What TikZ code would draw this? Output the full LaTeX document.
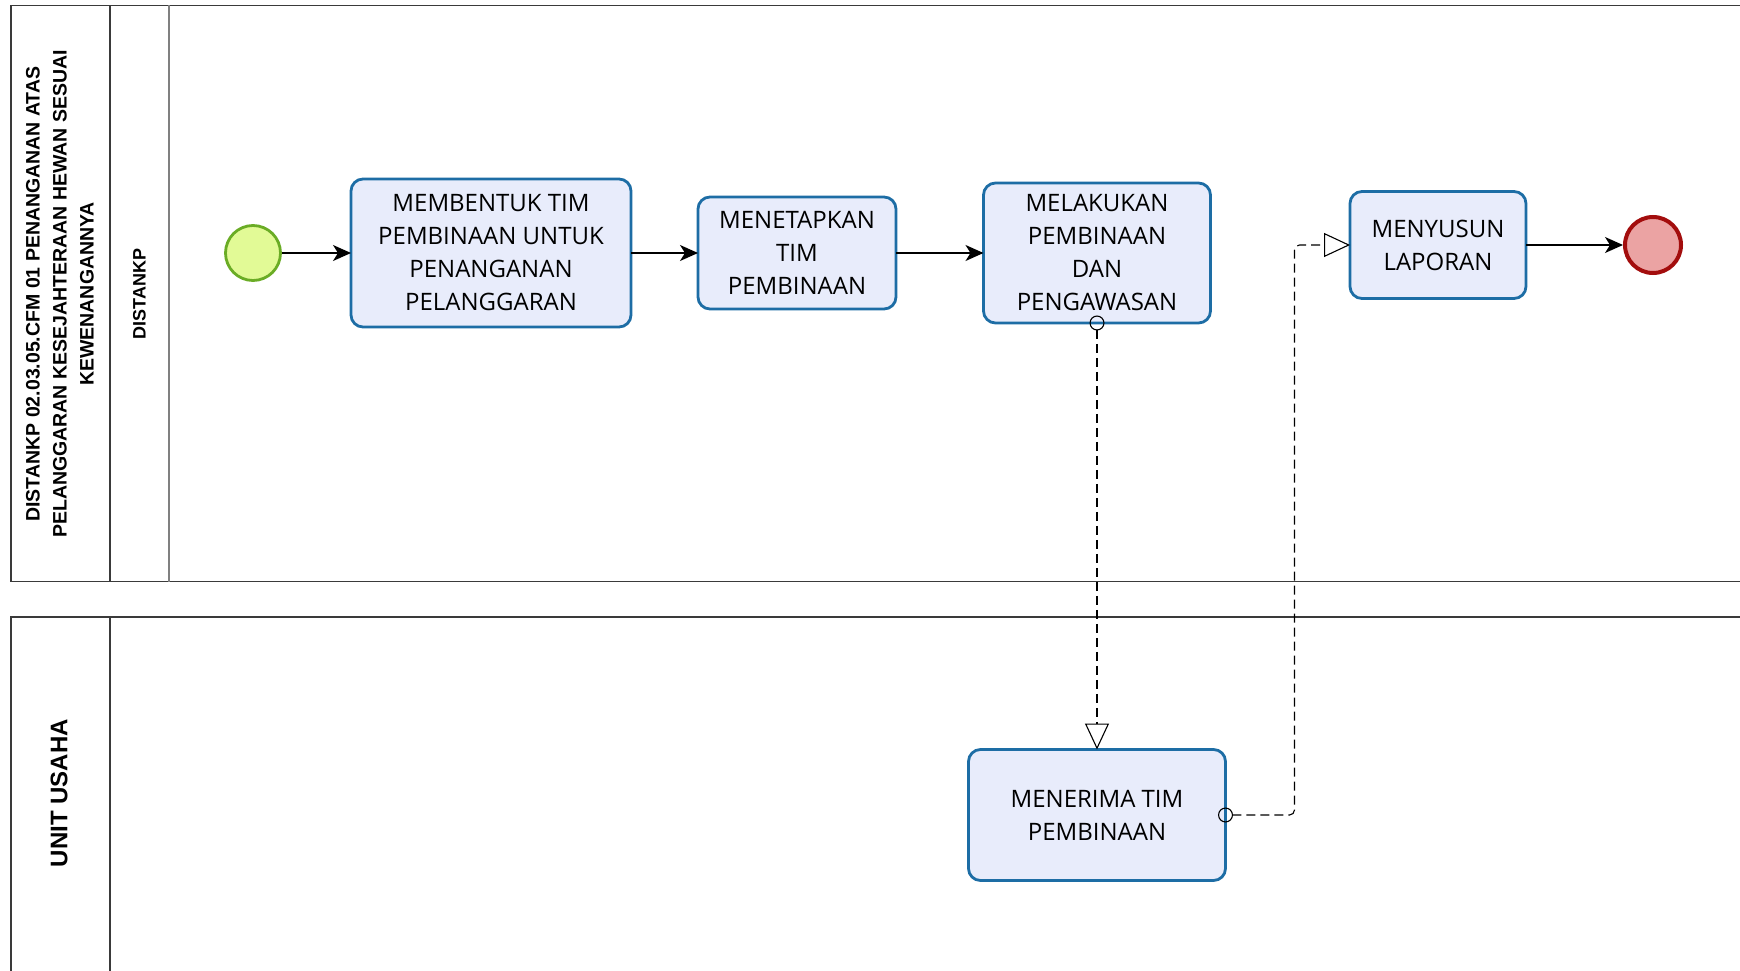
\documentclass[tikz,border=0pt]{standalone}
\usepackage{fontspec}
\setmainfont{Open Sans}
\newfontfamily\poolfont{Liberation Sans}
\usepackage{xcolor}
\usepackage{tikz}
\usetikzlibrary{arrows.meta,positioning,calc}

\definecolor{taskfill}{HTML}{E8ECFB}
\definecolor{taskline}{HTML}{1D6DA5}
\definecolor{startfill}{HTML}{E2FA96}
\definecolor{startline}{HTML}{6AAC25}
\definecolor{endfill}{HTML}{EBA3A3}
\definecolor{endline}{HTML}{A30D0D}
\definecolor{poolline}{HTML}{3A3A3A}

\begin{document}
\begin{tikzpicture}[x=1pt,y=-1pt,
  pool/.style={draw=poolline,line width=1.5pt},
  lane/.style={draw=gray,line width=1.2pt},
  task/.style={draw=taskline,fill=taskfill,line width=2.8pt,rounded corners=12pt,
    align=center,inner sep=0pt,outer sep=0pt,font=\fontsize{24}{33}\selectfont},
  flow/.style={-{Stealth[length=18pt,width=16pt,inset=5pt]},line width=1.5pt},
  msg/.style={line width=1.1pt,dash pattern=on 9pt off 5pt,
    {Circle[open,length=15pt,width=15pt]}-{Triangle[open,length=26pt,width=24pt]}}]
  \useasboundingbox (0,0) rectangle (1740,971);
  \clip (0,0) rectangle (1740,971);
  % pools and lanes
  \draw[pool] (11,5.5) rectangle (1780,581.5);
  \draw[pool] (110,5.5) -- (110,581.5);
  \draw[lane] (169,5.5) -- (169,581.5);
  \draw[pool] (11,617) rectangle (1780,1000);
  \draw[pool] (110,617) -- (110,1000);
  \node[rotate=90,align=center,font=\poolfont\bfseries\fontsize{19.5}{27}\selectfont] (pooltitle) at (60,294)
    {DISTANKP 02.03.05.CFM 01 PENANGANAN ATAS\\PELANGGARAN KESEJAHTERAAN HEWAN SESUAI\\KEWENANGANNYA};
  \node[rotate=90,font=\poolfont\bfseries\fontsize{18}{22}\selectfont] (lanedistankp) at (139.5,294) {DISTANKP};
  \node[rotate=90,font=\poolfont\bfseries\fontsize{24}{28}\selectfont] (poolusaha) at (59,793) {UNIT USAHA};
  % events and tasks
  \node[circle,draw=startline,fill=startfill,line width=2.8pt,minimum size=55pt,inner sep=0pt] (start) at (253,253) {};
  \node[task,minimum width=280pt,minimum height=148pt] (bentuk) at (491,253) {MEMBENTUK TIM\\PEMBINAAN UNTUK\\PENANGANAN\\PELANGGARAN};
  \node[task,minimum width=198pt,minimum height=112pt] (tetapkan) at (797,253) {MENETAPKAN\\TIM\\PEMBINAAN};
  \node[task,minimum width=227pt,minimum height=140pt] (lakukan) at (1097,253) {MELAKUKAN\\PEMBINAAN\\DAN\\PENGAWASAN};
  \node[task,minimum width=176pt,minimum height=107pt] (susun) at (1438,245) {MENYUSUN\\LAPORAN};
  \node[circle,draw=endline,fill=endfill,line width=4pt,minimum size=56pt,inner sep=0pt] (end) at (1653,245) {};
  \node[task,minimum width=257pt,minimum height=131pt] (terima) at (1097,815) {MENERIMA TIM\\PEMBINAAN};
  % sequence flows
  \draw[flow] (start) -- (bentuk);
  \draw[flow] (bentuk) -- (tetapkan);
  \draw[flow] (tetapkan) -- (lakukan);
  \draw[flow] (susun) -- (end);
  % message flows
  \draw[msg] ([yshift=7.5pt]lakukan.south) -- (terima.north);
  \draw[msg,rounded corners=5pt] ([xshift=-7.5pt]terima.east) -- ++(76.5,0) |- (susun.west);
\end{tikzpicture}
\end{document}
